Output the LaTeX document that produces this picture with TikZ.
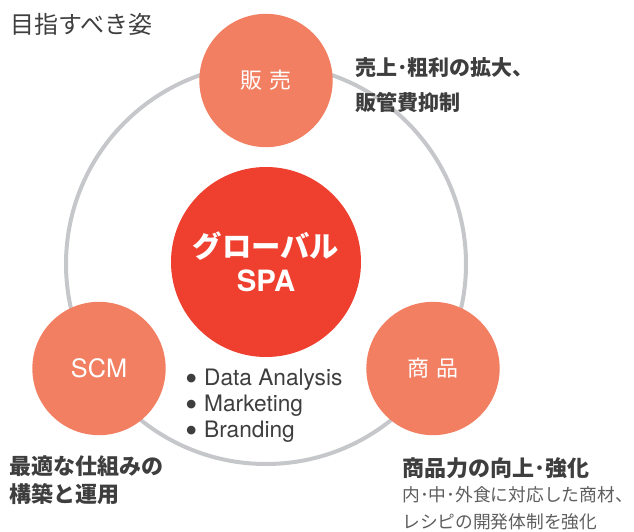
\documentclass[tikz,border=0pt]{standalone}
\usepackage{fontspec}
\setmainfont{TeX Gyre Heros}
\newfontfamily\jp{Noto Sans CJK JP}
\newfontfamily\dv{DejaVu Sans}

\definecolor{ringgray}{HTML}{C6C7CA}
\definecolor{salmon}{HTML}{F27F62}
\definecolor{spared}{HTML}{EE3F2F}
\definecolor{textgray}{HTML}{3E3E3E}
\definecolor{subgray}{HTML}{5E5E5E}

\newcommand{\dotmark}{\raisebox{3.5pt}{\dv\fontsize{8.5}{10}\selectfont ●}\hspace{6pt}}

\begin{document}
\begin{tikzpicture}[x=0.75pt,y=-0.75pt,
  pillar/.style={circle,fill=salmon,minimum size=100pt,inner sep=0pt,text=white},
  note/.style={anchor=west,align=left,inner sep=0pt,text=textgray}]
\useasboundingbox (0,0) rectangle (634,531);

\draw[ringgray,line width=3pt] (266,264) circle [radius=150pt];

\node[circle,fill=spared,minimum size=142.5pt,inner sep=0pt,text=white,align=center,
  font=\fontsize{22}{25.5}\selectfont\bfseries] (spa) at (266,262) {{\jp グローバル}\\SPA};

\node[pillar,font=\jp\fontsize{16.5}{20}\selectfont] (sales) at (266,80.5) {販\hspace{0.3em}売};
\node[pillar,font=\fontsize{19}{20}\selectfont] (scm) at (99,368.5) {SCM};
\node[pillar,font=\jp\fontsize{16.5}{20}\selectfont] (goods) at (433,368.5) {商\hspace{0.3em}品};

\node[note,font=\jp\fontsize{18}{22}\selectfont] (goal) at (10,24) {目指すべき姿};
\node[note,font=\jp\fontsize{15.75}{25.8}\selectfont\bfseries] (salesnote) at (355,85) {売上･粗利の拡大、\\販管費抑制};
\node[note,font=\jp\fontsize{16.5}{21}\selectfont\bfseries] (scmnote) at (9,480) {最適な仕組みの\\構築と運用};
\node[note,font=\jp\fontsize{16.5}{21}\selectfont\bfseries] (goodsnote) at (402,468) {商品力の向上･強化};
\node[note,text=subgray,font=\jp\fontsize{13.3}{20}\selectfont] (goodsdetail) at (402,508.5) {内･中･外食に対応した商材、\\レシピの開発体制を強化};

\node[note,font=\fontsize{17}{19.5}\selectfont] (skills) at (186,406) {\dotmark Data Analysis\\\dotmark Marketing\\\dotmark Branding};

\end{tikzpicture}
\end{document}
